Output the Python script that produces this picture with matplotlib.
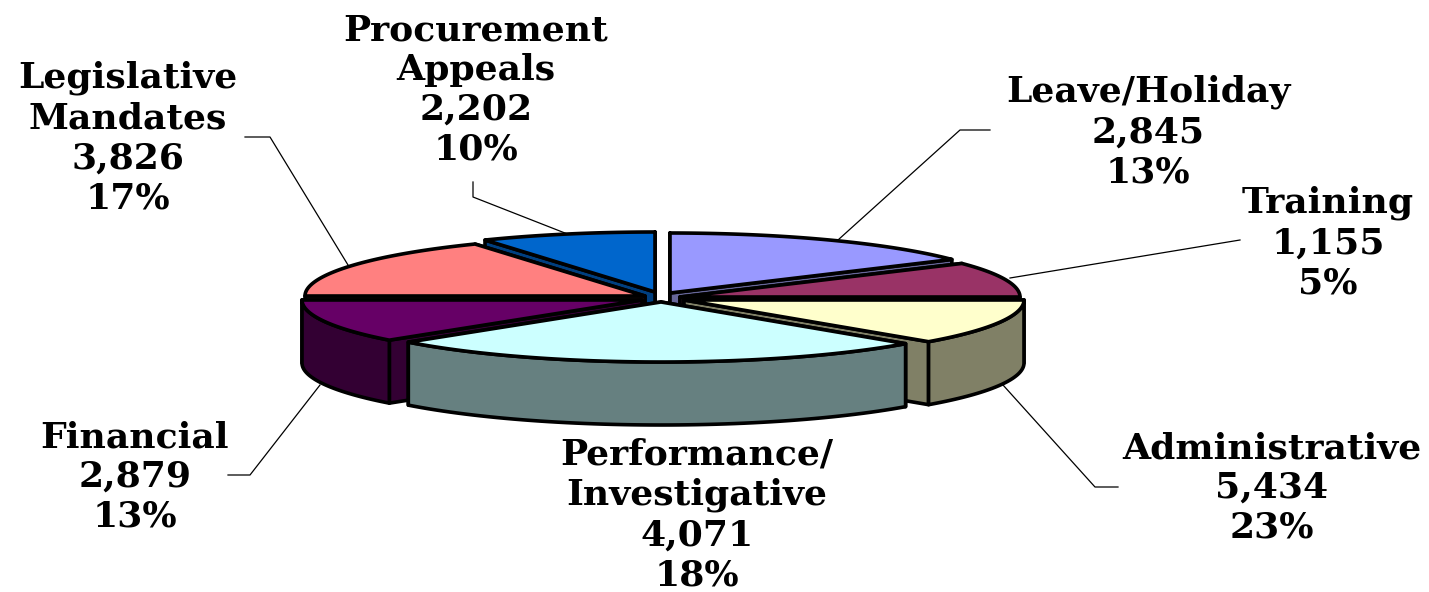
import numpy as np
import matplotlib
matplotlib.use('Agg')
import matplotlib.pyplot as plt

# figures printed next to each slice
labels = ['Leave/Holiday', 'Training', 'Administrative', 'Performance/\nInvestigative',
          'Financial', 'Legislative\nMandates', 'Procurement\nAppeals']
hours = ['2,845', '1,155', '5,434', '4,071', '2,879', '3,826', '2,202']
percents = ['13%', '5%', '23%', '18%', '13%', '17%', '10%']

# sweep of each slice as drawn, clockwise from 12 o'clock (degrees)
sweeps = [56, 34, 44, 94, 42, 60, 30]

top_colors = ['#9999FF', '#993366', '#FFFFCC', '#CCFFFF', '#660066', '#FF8080', '#0066CC']
side_colors = ['#666699', '#4D1A33', '#808066', '#668080', '#330033', '#804040', '#003F7F']

# where each slice's point sits after exploding
apex = [(670, 293), (680, 297), (684, 300), (661, 302), (642, 300), (645, 296), (655, 292)]
draw_order = [6, 0, 5, 1, 4, 2, 3]

label_pos = [(1148, 132), (1328, 243), (1272, 488), (697, 515), (135, 477), (128, 138), (476, 90)]
leaders = [
    [(990, 130), (960, 130), (838, 240)],
    [(1240, 240), (1010, 278)],
    [(1003, 385), (1095, 487), (1118, 487)],
    [(320, 385), (250, 475), (228, 475)],
    [(348, 265), (270, 137), (245, 137)],
    [(570, 235), (473, 197), (473, 182)],
]

rx, ry = 340, 60
depth = 63


def rim(cx, cy, a):
    t = np.radians(a)
    return cx + rx * np.sin(t), cy - ry * np.cos(t)


fig = plt.figure(figsize=(14.29, 5.92), dpi=100)
ax = fig.add_axes([0, 0, 1, 1])
ax.set_xlim(0, 1429)
ax.set_ylim(592, 0)
ax.axis('off')

edges = np.concatenate([[0], np.cumsum(sweeps)])

for n, i in enumerate(draw_order):
    cx, cy = apex[i]
    a0, a1 = edges[i], edges[i + 1]
    z = 2 + n
    style = dict(edgecolor='black', linewidth=2.6, joinstyle='round', zorder=z)

    # cut faces, the one further back first
    for a in sorted((a0, a1), key=lambda d: -np.cos(np.radians(d))):
        x, y = rim(cx, cy, a)
        ax.fill([cx, x, x, cx], [cy, y, y + depth, cy + depth], facecolor=side_colors[i], **style)

    # outer wall, only the part turned towards us
    lo, hi = max(a0, 90), min(a1, 270)
    if hi > lo:
        ang = np.linspace(lo, hi, 60)
        x, y = rim(cx, cy, ang)
        ax.fill(np.r_[x, x[::-1]], np.r_[y, y[::-1] + depth], facecolor=side_colors[i], **style)

    # top
    ang = np.linspace(a0, a1, 80)
    x, y = rim(cx, cy, ang)
    ax.fill(np.r_[cx, x], np.r_[cy, y], facecolor=top_colors[i], **style)

for pts in leaders:
    ax.plot([p[0] for p in pts], [p[1] for p in pts], color='black', lw=0.9, zorder=1)

for i in range(len(labels)):
    ax.text(label_pos[i][0], label_pos[i][1], labels[i] + '\n' + hours[i] + '\n' + percents[i],
            ha='center', va='center', family='DejaVu Serif', weight='bold',
            fontsize=26, linespacing=1.22, color='black', zorder=20)

fig.savefig('out.png', dpi=100)
